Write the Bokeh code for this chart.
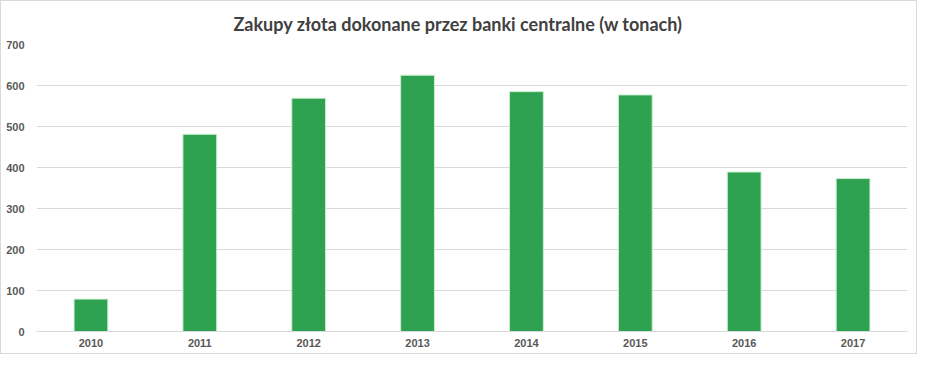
from bokeh.plotting import figure
from bokeh.models import Range1d, FactorRange
from bokeh.embed import file_html
from bokeh.resources import INLINE

years = ["2010", "2011", "2012", "2013", "2014", "2015", "2016", "2017"]
purchases = [79, 481, 569, 625, 585, 577, 389, 373]
y_ticks = [0, 100, 200, 300, 400, 500, 600, 700]

p = figure(x_range=FactorRange(*years, range_padding=0), y_range=Range1d(0, 700),
           width=917, height=354, output_backend="svg", toolbar_location=None,
           title="Zakupy złota dokonane przez banki centralne (w tonach)",
           min_border_left=35, min_border_right=11, min_border_bottom=24, min_border_top=43)
p.styles = {"border": "1px solid #d9d9d9"}
p.title.align = "left"
p.title.offset = 197
p.title.standoff = 19
p.title.text_font = "Lato"
p.title.text_font_size = "18px"
p.title.text_font_style = "bold"
p.title.text_color = "#404040"

p.vbar(x=years, top=purchases, width=0.31, fill_color="#2ea250", line_color="#c8eccf", line_width=1)

p.outline_line_color = None
p.xgrid.grid_line_color = None
p.ygrid.grid_line_color = "#d9d9d9"
p.ygrid.ticker = y_ticks
p.yaxis.ticker = y_ticks
p.yaxis.axis_line_color = None
p.yaxis.major_tick_line_color = None
p.yaxis.minor_tick_line_color = None
p.yaxis.major_label_standoff = 6
p.xaxis.axis_line_color = "#d9d9d9"
p.xaxis.major_tick_line_color = None
p.xaxis.major_label_standoff = 1
for ax in (p.xaxis, p.yaxis):
    ax.major_label_text_font = "Liberation Sans"
    ax.major_label_text_font_size = "11px"
    ax.major_label_text_font_style = "bold"
    ax.major_label_text_color = "#595959"

open("out.html", "w").write(file_html(p, INLINE))
